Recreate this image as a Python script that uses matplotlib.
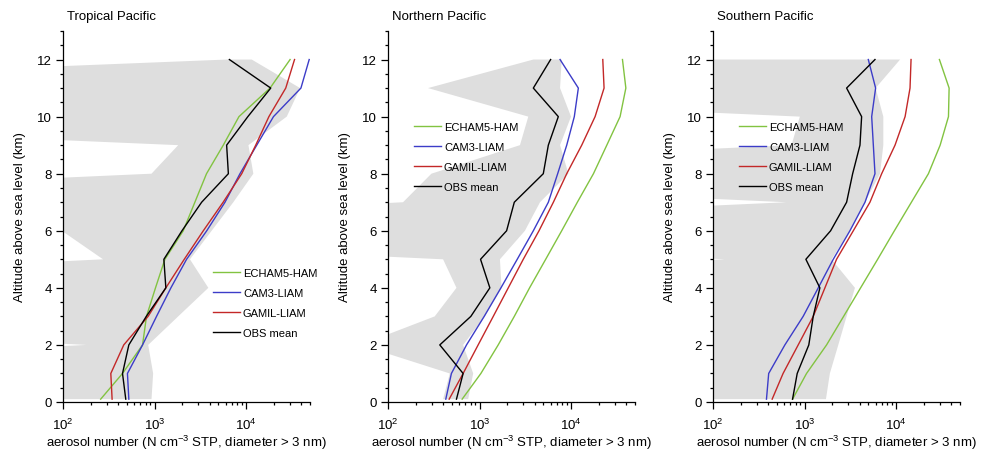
import numpy as np
import matplotlib
matplotlib.use("Agg")
import matplotlib.pyplot as plt
from matplotlib.ticker import LogLocator, FixedLocator, MultipleLocator

plt.rcParams['font.family'] = ['Liberation Sans', 'DejaVu Sans']
plt.rcParams['mathtext.fontset'] = 'custom'
plt.rcParams['mathtext.rm'] = 'Liberation Sans'
plt.rcParams['mathtext.it'] = 'Liberation Sans:italic'

# Altitude levels (km)
altitude = [0.1, 1, 2, 3, 4, 5, 6, 7, 8, 9, 10, 11, 12]

titles = ["Tropical Pacific", "Northern Pacific", "Southern Pacific"]
series_names = ["ECHAM5-HAM", "CAM3-LIAM", "GAMIL-LIAM", "OBS mean"]
series_colors = ["#82c341", "#3c3cc8", "#c32828", "#000000"]

# ---- Tropical Pacific ----
trop_echam = [258, 447, 740, 817, 1025, 1298, 2060, 2760, 3700, 5640, 8370, 18300, 30300]
trop_cam = [524, 506, 740, 1052, 1510, 2240, 3720, 5890, 8590, 13090, 19950, 39800, 49000]
trop_gamil = [344, 333, 461, 851, 1330, 2113, 3412, 5623, 8974, 12760, 17780, 27160, 33880]
trop_obs = [485, 447, 524, 813, 1330, 1265, 1995, 3273, 6412, 6138, 10470, 18620, 6577]
trop_min = [1e-4, 1e-4, 180, 1e-4, 1e-4, 274, 97, 1e-4, 927, 1815, 1e-4, 1e-4, 6140]
trop_max = [927, 966, 853, 1815, 3873, 2438, 4207, 7261, 12020, 10620, 27860, 38990, 11530]

# ---- Northern Pacific ----
north_echam = [646, 1035, 1600, 2399, 3524, 5284, 7907, 11720, 17580, 24600, 34360, 39720, 36480]
north_cam = [428, 493, 721, 1125, 1714, 2582, 3873, 5649, 7145, 8974, 10860, 12020, 7586]
north_gamil = [466, 662, 966, 1413, 2061, 3006, 4467, 6412, 8974, 13090, 18320, 22960, 22230]
north_obs = [560, 662, 368, 804, 1297, 1026, 1977, 2399, 4977, 5649, 7261, 3873, 5984]
north_min = [400, 473, 50, 324, 560, 400, 1e-4, 146, 298, 2767, 3412, 274, 3873]
north_max = [752, 853, 662, 1143, 1742, 1671, 3133, 4581, 9354, 7586, 10000, 7586, 7907]

# ---- Southern Pacific ----
south_echam = [740, 1052, 1742, 2673, 4102, 6295, 9594, 14720, 22590, 30340, 37410, 38020, 29790]
south_cam = [384, 406, 610, 966, 1413, 2061, 3133, 4581, 5888, 5649, 5420, 5984, 4977]
south_gamil = [443, 583, 853, 1245, 1671, 2239, 3412, 5188, 6966, 9750, 12560, 14220, 14590]
south_obs = [740, 832, 1114, 1245, 1472, 1035, 1928, 2884, 3357, 4036, 4207, 2884, 5888]
south_min = [1e-4, 1e-4, 1e-4, 1e-4, 1e-4, 134, 1e-4, 635, 1e-4, 721, 889, 1e-4, 1e-4]
south_max = [1714, 1892, 2339, 2884, 3556, 1977, 3133, 4581, 6683, 7261, 7261, 5984, 11070]

panels = [
    (trop_echam, trop_cam, trop_gamil, trop_obs, trop_min, trop_max),
    (north_echam, north_cam, north_gamil, north_obs, north_min, north_max),
    (south_echam, south_cam, south_gamil, south_obs, south_min, south_max),
]
legend_anchor = [(0.607, 0.362), (0.105, 0.755), (0.105, 0.755)]

W, H = 981, 452
fig = plt.figure(figsize=(W / 100, H / 100), dpi=100)
lefts = [63, 388, 713]
ax_w = 247
ax_bottom, ax_top = 403, 32
axes = []

for i, (left, data) in enumerate(zip(lefts, panels)):
    ax = fig.add_axes([left / W, 1 - ax_bottom / H, ax_w / W, (ax_bottom - ax_top) / H])
    axes.append(ax)
    ech, cam, gam, obs, mn, mx = data
    z = np.array(altitude)
    px = np.concatenate([np.array(mn), np.array(mx)[::-1]])
    py = np.concatenate([z, z[::-1]])
    ax.fill(px, py, color="#dedede", lw=0, zorder=1)
    for vals, name, col in zip([ech, cam, gam, obs], series_names, series_colors):
        ax.plot(vals, altitude, color=col, lw=1.0, label=name, zorder=3)
    ax.set_xscale('log')
    ax.set_xlim(100, 50000)
    ax.set_ylim(0, 13)
    for s in ['top', 'right']:
        ax.spines[s].set_visible(False)
    for s in ['left', 'bottom']:
        ax.spines[s].set_linewidth(0.9)
    ax.xaxis.set_major_locator(FixedLocator([1e2, 1e3, 1e4]))
    ax.xaxis.set_minor_locator(LogLocator(base=10, subs=np.arange(2, 10), numticks=20))
    ax.yaxis.set_major_locator(FixedLocator([0, 2, 4, 6, 8, 10, 12]))
    ax.yaxis.set_minor_locator(MultipleLocator(0.5))
    ax.tick_params(which='major', direction='out', length=5, width=0.9, labelsize=9.5, pad=3)
    ax.tick_params(which='minor', direction='out', length=2.5, width=0.9)
    ax.tick_params(axis='x', which='major', pad=6)
    ax.set_xlabel('aerosol number (N cm$^{-3}$ STP, diameter > 3 nm)', fontsize=9.5)
    ax.xaxis.label.set_va('baseline')
    ax.xaxis.set_label_coords(0.5, (ax_bottom - 447.5) / (ax_bottom - ax_top))
    ax.set_ylabel('Altitude above sea level (km)', fontsize=9.5)
    ax.yaxis.set_label_coords(-0.15, 0.5)
    ax.text(0.016, 1.04, titles[i], transform=ax.transAxes, fontsize=9.5, ha='left', va='center')
    ax.legend(loc='upper left', bbox_to_anchor=legend_anchor[i], frameon=False,
              fontsize=8, handlelength=2.43, handletextpad=0.27, labelspacing=0.9,
              borderpad=0, borderaxespad=0)

# Fine-tune x tick label distance so the digits sit where the reference has them
fig.canvas.draw()
for ax in axes:
    lab = ax.get_xticklabels()[0]
    bb = lab.get_window_extent()
    bottom_from_top = H - bb.y0
    delta = 433.0 - bottom_from_top
    ax.tick_params(axis='x', which='major', pad=6 + delta * 72 / 100)

fig.savefig('out.png', dpi=100)
